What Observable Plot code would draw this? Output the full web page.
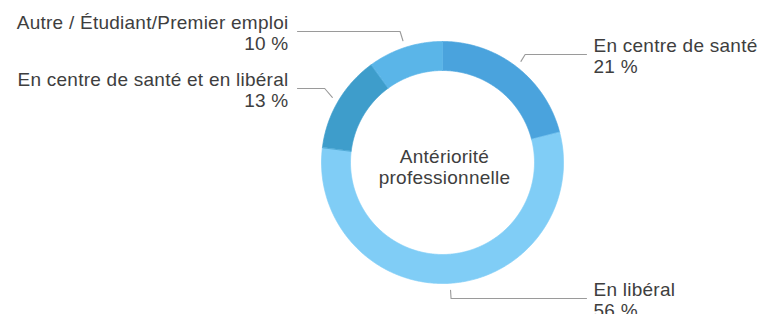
<!DOCTYPE html>
<html><head><meta charset="utf-8">
<script src="https://cdn.jsdelivr.net/npm/d3@7"></script>
<script src="https://cdn.jsdelivr.net/npm/@observablehq/plot@0.6"></script>
<style>
html,body{margin:0;padding:0;background:#fff;}
</style></head><body><div id="chart"></div>
<script>
// ---- data ----
const categories = ["En centre de santé", "En libéral", "En centre de santé et en libéral", "Autre / Étudiant/Premier emploi"];
const values = [21, 56, 13, 10];
const valueLabels = ["21 %", "56 %", "13 %", "10 %"];
const colors = ["#4aa3dd", "#80cdf6", "#3e9dcb", "#5ab5e8"];
const centerTitle = "Antériorité\nprofessionnelle";

// ---- layout ----
const W = 767, H = 314;
const cx = 442, cy = 162, rOuter = 121, rInner = 92, leaderR = 128;
const labelLineY = [54, 298, 88, 31];
const labelSide = [1, 1, -1, -1];
const rightTextX = 593, leftTextX = 288;
const fontFamily = "'Helvetica Neue', Helvetica, Arial, 'Liberation Sans', sans-serif";
const fontSize = 19;
const textColor = "#3e3e3e";

const polar = (a, r) => ({x: cx + r * Math.sin(a), y: cy - r * Math.cos(a)});

const arcs = d3.pie().sort(null).value(d => d)(values);

// ring polygons
const ringPoints = [];
arcs.forEach((a, i) => {
  const n = Math.max(2, Math.ceil((a.endAngle - a.startAngle) / (Math.PI / 360)));
  for (let k = 0; k <= n; k++) {
    const t = a.startAngle + (a.endAngle - a.startAngle) * k / n;
    ringPoints.push({label: categories[i], ...polar(t, rOuter)});
  }
  for (let k = n; k >= 0; k--) {
    const t = a.startAngle + (a.endAngle - a.startAngle) * k / n;
    ringPoints.push({label: categories[i], ...polar(t, rInner)});
  }
});

// leader lines and labels
const leaderPoints = [];
const labels = [];
arcs.forEach((a, i) => {
  const mid = (a.startAngle + a.endAngle) / 2;
  const s = polar(mid, leaderR);
  const ly = labelLineY[i];
  const ex = s.x + Math.sin(mid) * Math.abs(ly - s.y);
  const endX = labelSide[i] > 0 ? rightTextX - 7 : leftTextX + 9;
  leaderPoints.push({label: categories[i], x: s.x, y: s.y});
  leaderPoints.push({label: categories[i], x: ex, y: ly});
  leaderPoints.push({label: categories[i], x: endX, y: ly});
  labels.push({
    text: categories[i] + "\n" + valueLabels[i],
    side: labelSide[i],
    x: labelSide[i] > 0 ? rightTextX : leftTextX,
    y: ly + 18.5
  });
});

const chart = Plot.plot({
  width: W, height: H,
  margin: 0,
  x: {domain: [0, W], range: [0, W], axis: null},
  y: {domain: [0, H], range: [0, H], axis: null},
  color: {domain: categories, range: colors},
  style: {fontFamily, background: "#fff", letterSpacing: "0.25px"},
  marks: [
    Plot.line(ringPoints, {x: "x", y: "y", z: "label", fill: "label", stroke: "label", strokeWidth: 0.7, curve: "linear-closed"}),
    Plot.line(leaderPoints, {x: "x", y: "y", z: "label", stroke: "#9a9a9a", strokeWidth: 1.1}),
    Plot.text(labels.filter(d => d.side > 0), {x: "x", y: "y", text: "text", textAnchor: "start", lineAnchor: "bottom", lineHeight: 21 / fontSize, fontSize, fill: textColor}),
    Plot.text(labels.filter(d => d.side < 0), {x: "x", y: "y", text: "text", textAnchor: "end", lineAnchor: "bottom", lineHeight: 21 / fontSize, fontSize, fill: textColor}),
    Plot.text([centerTitle], {x: () => cx + 2, y: () => cy + 21, text: d => d, textAnchor: "middle", lineAnchor: "bottom", lineHeight: 21 / fontSize, fontSize, fill: textColor})
  ]
});
document.getElementById("chart").appendChild(chart);
</script>
</body></html>
